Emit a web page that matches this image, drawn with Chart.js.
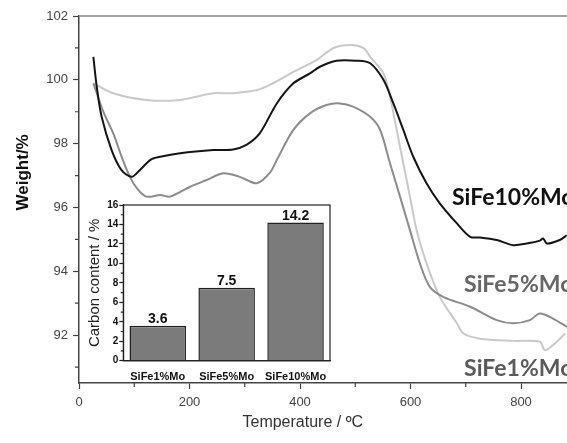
<!DOCTYPE html>
<html>
<head>
<meta charset="utf-8">
<script src="https://cdn.jsdelivr.net/npm/chart.js@4.4.1/dist/chart.umd.min.js"></script>
<style>
  html, body { margin: 0; padding: 0; background: #fff; overflow: hidden; width: 567px; height: 443px; }
  #wrap { position: relative; width: 567px; height: 443px; overflow: hidden; }
  #main { position: absolute; left: 0; top: 0; }
  #inset { position: absolute; left: 80px; top: 195px; }
</style>
</head>
<body>
<div id="wrap">
  <canvas id="main" width="600" height="443"></canvas>
  <canvas id="inset" width="255" height="185"></canvas>
</div>
<script>
// TGA curves (temperature in ºC, weight in %)
const tempSiFe10 = [26, 32, 41, 59, 77, 95, 110, 130, 147, 183, 243, 279, 303, 327, 358, 388, 418, 436, 466, 502, 527, 551, 569, 587, 605, 629, 653, 684, 708, 726, 756, 786, 810, 834, 840, 847, 870, 883];
const weightSiFe10 = [100.72, 99.8, 98.84, 97.8, 97.17, 96.96, 97.17, 97.5, 97.59, 97.7, 97.8, 97.82, 97.96, 98.32, 99.26, 99.89, 100.2, 100.41, 100.6, 100.6, 100.52, 100.0, 99.26, 98.43, 97.59, 96.76, 96.13, 95.5, 95.08, 95.06, 94.98, 94.82, 94.87, 94.96, 95.03, 94.87, 94.98, 95.13];

const tempSiFe5 = [26, 44, 62, 77, 92, 105, 122, 147, 165, 201, 231, 261, 291, 322, 346, 358, 388, 418, 448, 472, 496, 527, 545, 563, 581, 599, 617, 635, 659, 708, 756, 786, 816, 834, 858, 883];
const weightSiFe5 = [99.89, 99.0, 98.32, 97.6, 96.96, 96.6, 96.34, 96.39, 96.34, 96.65, 96.86, 97.07, 96.96, 96.76, 97.1, 97.49, 98.43, 98.95, 99.21, 99.26, 99.16, 98.84, 98.43, 97.38, 96.34, 95.29, 94.25, 93.51, 93.2, 92.89, 92.47, 92.37, 92.47, 92.68, 92.52, 92.26];

const tempSiFe1 = [26, 62, 122, 183, 243, 279, 322, 346, 388, 430, 460, 491, 515, 527, 551, 563, 575, 587, 599, 611, 629, 653, 684, 696, 726, 786, 834, 843, 858, 880];
const weightSiFe1 = [99.89, 99.58, 99.37, 99.37, 99.58, 99.58, 99.68, 99.85, 100.25, 100.62, 100.99, 101.09, 100.99, 100.72, 100.2, 99.47, 98.43, 97.38, 96.34, 95.29, 94.25, 93.2, 92.37, 92.05, 91.89, 91.82, 91.79, 91.53, 91.69, 92.05];

const seriesNames = ['SiFe10%Mo', 'SiFe5%Mo', 'SiFe1%Mo'];

const xTicks = [0, 200, 400, 600, 800];
const xMinor = [100, 300, 500, 700];
const yTicks = [92, 94, 96, 98, 100, 102];
const yMinor = [91, 93, 95, 97, 99, 101];

// inset: carbon content
const carbonSamples = ['SiFe1%Mo', 'SiFe5%Mo', 'SiFe10%Mo'];
const carbonValues = [3.6, 7.5, 14.2];
const carbonTicks = [0, 2, 4, 6, 8, 10, 12, 14, 16];
const carbonMinor = [1, 3, 5, 7, 9, 11, 13, 15];

const FONT = '"Liberation Sans", Arial, sans-serif';

function toPoints(xs, ys) {
  return xs.map((x, i) => ({ x: x, y: ys[i] }));
}

// extra drawing for the main chart: frame, minor ticks, titles, curve labels
const mainExtras = {
  id: 'mainExtras',
  afterDraw(chart, args, opts) {
    const ctx = chart.ctx;
    const a = chart.chartArea;
    const xs = chart.scales.x, ys = chart.scales.y;
    ctx.save();
    // top frame line
    ctx.strokeStyle = '#8a8a8a';
    ctx.lineWidth = 1.5;
    ctx.beginPath();
    ctx.moveTo(a.left, a.top);
    ctx.lineTo(a.right, a.top);
    ctx.stroke();
    // minor ticks
    ctx.strokeStyle = '#444';
    ctx.lineWidth = 1.2;
    ctx.beginPath();
    xMinor.forEach(v => {
      const px = xs.getPixelForValue(v);
      ctx.moveTo(px, a.bottom);
      ctx.lineTo(px, a.bottom + 4);
    });
    yMinor.forEach(v => {
      const py = ys.getPixelForValue(v);
      ctx.moveTo(a.left, py);
      ctx.lineTo(a.left - 4, py);
    });
    ctx.stroke();
    // axis titles
    ctx.fillStyle = '#333';
    ctx.font = '16px ' + FONT;
    ctx.textAlign = 'center';
    ctx.textBaseline = 'middle';
    ctx.fillText('Temperature / ºC', xs.getPixelForValue(opts.xTitleAt), 423);
    ctx.save();
    ctx.translate(23, ys.getPixelForValue(opts.yTitleAt));
    ctx.rotate(-Math.PI / 2);
    ctx.fillStyle = '#111';
    ctx.font = 'bold 17px ' + FONT;
    ctx.fillText('Weight/%', 0, 0);
    ctx.restore();
    // curve labels
    ctx.textAlign = 'left';
    ctx.textBaseline = 'alphabetic';
    ctx.font = 'bold 23px Lato, "Open Sans", sans-serif';
    opts.labels.forEach((l, i) => {
      ctx.fillStyle = l.color;
      ctx.fillText(seriesNames[i], xs.getPixelForValue(l.x), ys.getPixelForValue(l.y));
    });
    ctx.restore();
  }
};

new Chart(document.getElementById('main'), {
  type: 'line',
  data: {
    datasets: [
      { label: seriesNames[0], data: toPoints(tempSiFe10, weightSiFe10), borderColor: '#151515', borderWidth: 2, order: 0 },
      { label: seriesNames[1], data: toPoints(tempSiFe5, weightSiFe5), borderColor: '#8c8c8c', borderWidth: 2, order: 1 },
      { label: seriesNames[2], data: toPoints(tempSiFe1, weightSiFe1), borderColor: '#c9c9c9', borderWidth: 2, order: 2 }
    ]
  },
  options: {
    responsive: false,
    animation: false,
    devicePixelRatio: 1,
    layout: { padding: { left: 0, top: 16, right: 23.75, bottom: 0 } },
    elements: {
      point: { radius: 0 },
      line: { tension: 0.3, fill: false }
    },
    plugins: {
      legend: { display: false },
      tooltip: { enabled: false },
      mainExtras: {
        xTitleAt: 405,
        yTitleAt: 97.1,
        labels: [
          { x: 675, y: 96.08, color: '#111' },
          { x: 697, y: 93.35, color: '#666' },
          { x: 697, y: 90.71, color: '#5a5a5a' }
        ]
      }
    },
    scales: {
      x: {
        type: 'linear',
        min: 0,
        max: 900,
        afterBuildTicks: s => { s.ticks = xTicks.map(v => ({ value: v })); },
        afterFit: s => { s.height = 60; },
        grid: { drawOnChartArea: false, tickLength: 6, tickColor: '#444', tickWidth: 1.2 },
        border: { color: '#444', width: 1.5 },
        ticks: { color: '#444', font: { family: FONT, size: 13 }, padding: 6, maxRotation: 0 }
      },
      y: {
        min: 90.5,
        max: 102,
        afterBuildTicks: s => { s.ticks = yTicks.map(v => ({ value: v })); },
        afterFit: s => { s.width = 79; },
        grid: { drawOnChartArea: false, tickLength: 6, tickColor: '#444', tickWidth: 1.2 },
        border: { color: '#444', width: 1.5 },
        ticks: { color: '#444', font: { family: FONT, size: 13 }, padding: 5 }
      }
    }
  },
  plugins: [mainExtras]
});

// inset: box, minor ticks and value labels on the bars
const insetExtras = {
  id: 'insetExtras',
  afterDatasetsDraw(chart) {
    const ctx = chart.ctx;
    const a = chart.chartArea;
    const ys = chart.scales.y;
    ctx.save();
    ctx.strokeStyle = '#222';
    ctx.lineWidth = 1.2;
    ctx.strokeRect(a.left, a.top, a.right - a.left, a.bottom - a.top);
    ctx.beginPath();
    carbonMinor.forEach(v => {
      const py = ys.getPixelForValue(v);
      ctx.moveTo(a.left, py);
      ctx.lineTo(a.left - 2.5, py);
    });
    ctx.stroke();
    ctx.fillStyle = '#111';
    ctx.font = 'bold 14px ' + FONT;
    ctx.textAlign = 'center';
    ctx.textBaseline = 'alphabetic';
    chart.getDatasetMeta(0).data.forEach((bar, i) => {
      ctx.fillText(String(carbonValues[i]), bar.x, bar.y - 3);
    });
    ctx.restore();
  }
};

new Chart(document.getElementById('inset'), {
  type: 'bar',
  data: {
    labels: carbonSamples,
    datasets: [{
      data: carbonValues,
      backgroundColor: '#7b7b7b',
      borderColor: '#222',
      borderWidth: 1.5,
      barPercentage: 0.82,
      categoryPercentage: 1
    }]
  },
  options: {
    responsive: false,
    animation: false,
    devicePixelRatio: 1,
    layout: { padding: { left: 0, top: 10, right: 5, bottom: 0 } },
    plugins: { legend: { display: false }, tooltip: { enabled: false } },
    scales: {
      x: {
        afterFit: s => { s.height = 19.3; },
        grid: { display: false },
        border: { color: '#222', width: 1.2 },
        ticks: { color: '#111', font: { family: FONT, size: 11, weight: 'bold' }, padding: 2, maxRotation: 0, autoSkip: false }
      },
      y: {
        min: 0,
        max: 16,
        afterBuildTicks: s => { s.ticks = carbonTicks.map(v => ({ value: v })); },
        afterFit: s => { s.width = 43.3; },
        grid: { drawOnChartArea: false, tickLength: 4, tickColor: '#222', tickWidth: 1.2 },
        border: { color: '#222', width: 1.2 },
        title: { display: true, text: 'Carbon content / %', color: '#222', font: { family: FONT, size: 15 }, padding: { top: 6, bottom: 0 } },
        ticks: { color: '#111', font: { family: FONT, size: 10, weight: 'bold' }, padding: 1 }
      }
    }
  },
  plugins: [insetExtras]
});
</script>
</body>
</html>
